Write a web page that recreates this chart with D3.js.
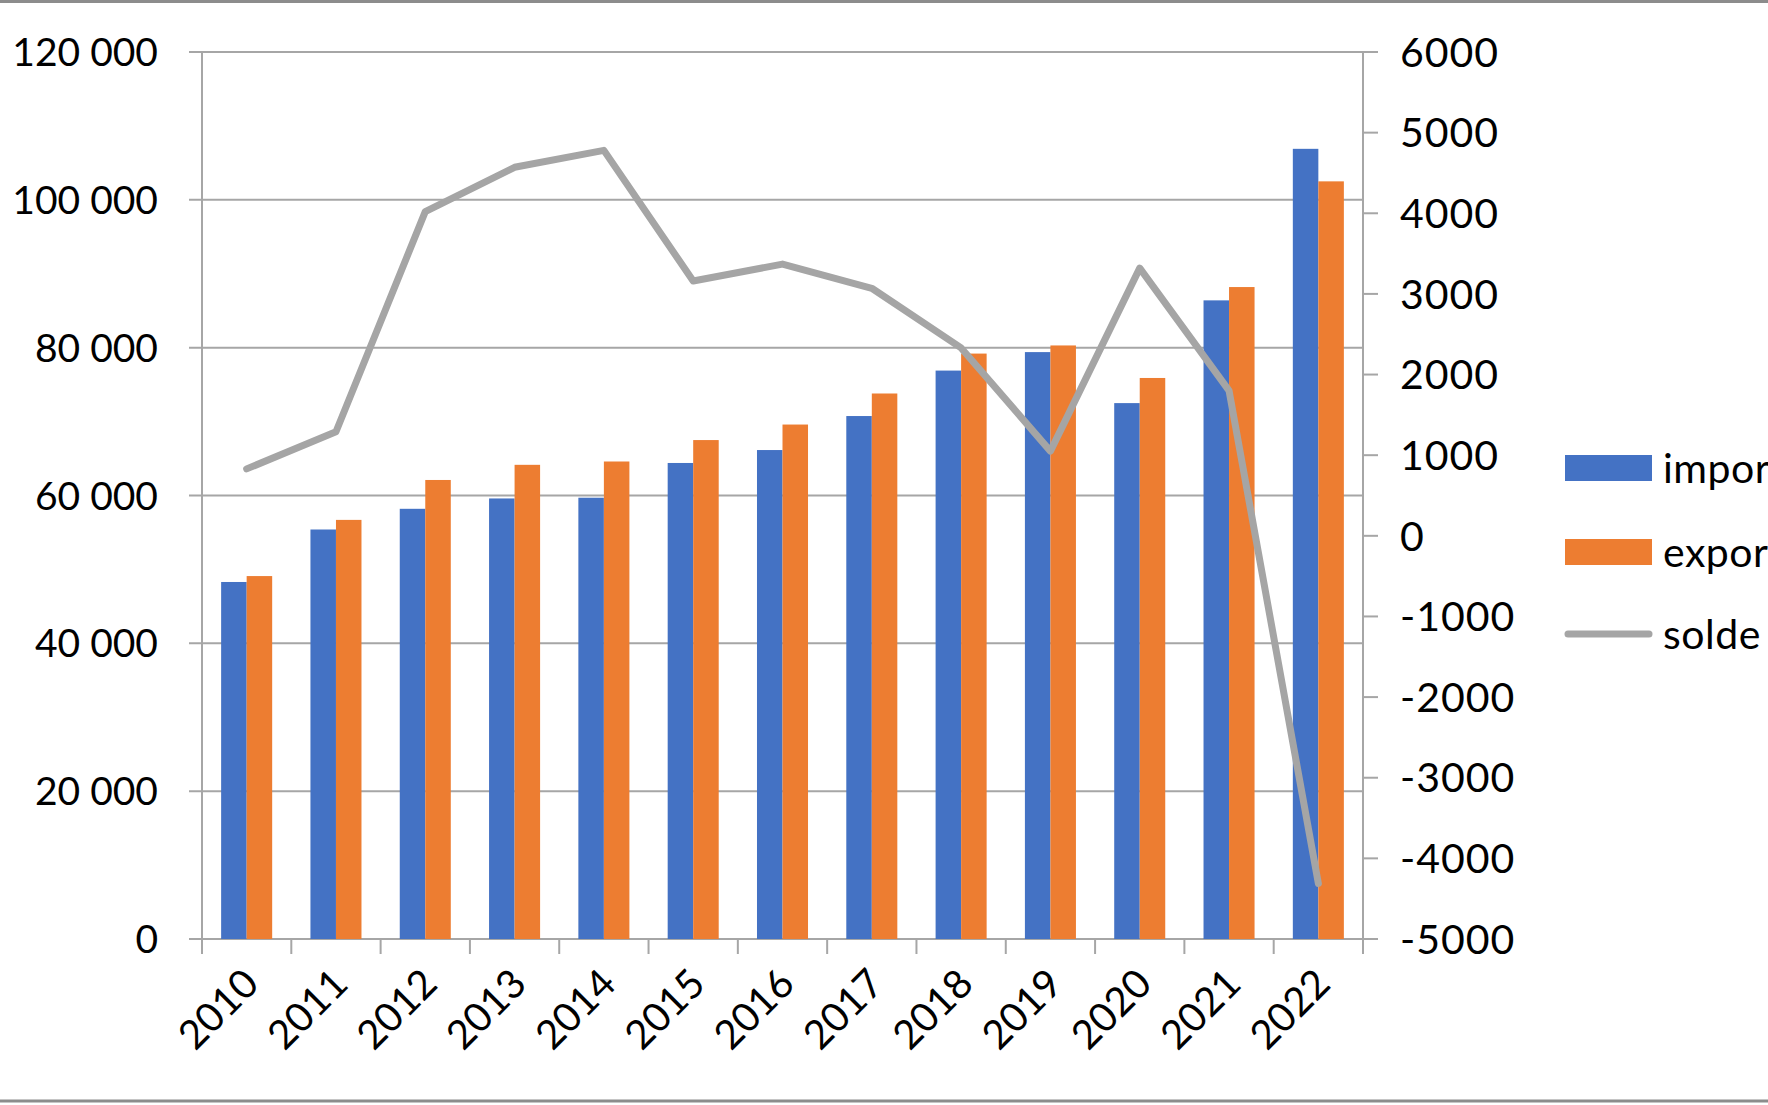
<!DOCTYPE html>
<html><head><meta charset="utf-8">
<script src="https://cdn.jsdelivr.net/npm/d3@7"></script>
<style>
html,body{margin:0;padding:0;background:#fff;overflow:hidden}
svg{display:block}
text{font-family:Lato,"Open Sans",sans-serif;fill:#000}
</style></head>
<body>
<svg id="c" width="1768" height="1105"></svg>
<script>
const years = ["2010","2011","2012","2013","2014","2015","2016","2017","2018","2019","2020","2021","2022"];
const importVals = [48300,55400,58200,59600,59700,64400,66150,70750,76900,79400,72500,86400,106900];
const exportVals = [49100,56700,62100,64150,64600,67500,69600,73800,79200,80300,75900,88200,102500];
const soldeVals  = [830,1290,4020,4570,4780,3160,3370,3070,2330,1050,3320,1800,-4310];
const leftTicks  = [0,20000,40000,60000,80000,100000,120000];
const rightTicks = [-5000,-4000,-3000,-2000,-1000,0,1000,2000,3000,4000,5000,6000];
const seriesNames = ["import","export","solde"];
const colors = {"import":"#4472C4","export":"#ED7D31","solde":"#A5A5A5"};

const svg = d3.select("#c");
const L = 202, R = 1363, T = 52, B = 939;
const fs = 39;
const gridCol = "#a6a6a6";

// frame lines (top and bottom)
svg.append("line").attr("x1",0).attr("x2",1768).attr("y1",1.5).attr("y2",1.5).attr("stroke","#8c8c8c").attr("stroke-width",3);
svg.append("line").attr("x1",0).attr("x2",1768).attr("y1",1101).attr("y2",1101).attr("stroke","#8c8c8c").attr("stroke-width",3);

const x0 = d3.scaleBand().domain(years).range([L,R]).paddingInner(3/7).paddingOuter(1.5/7);
const x1 = d3.scaleBand().domain(["import","export"]).range([0,x0.bandwidth()]);
const xc = d3.scalePoint().domain(years).range([L,R]).padding(0.5);
const yL = d3.scaleLinear().domain([0,120000]).range([B,T]);
const yR = d3.scaleLinear().domain([-5000,6000]).range([B,T]);

const fmt = v => d3.format(",")(v).replace(/,/g," ");

// gridlines
svg.append("g").selectAll("line").data(leftTicks).join("line")
  .attr("x1",L-13).attr("x2",R).attr("y1",d=>yL(d)).attr("y2",d=>yL(d))
  .attr("stroke",gridCol).attr("stroke-width",2);

// left axis
svg.append("line").attr("x1",L).attr("x2",L).attr("y1",T).attr("y2",B).attr("stroke",gridCol).attr("stroke-width",2);
svg.append("g").selectAll("text").data(leftTicks).join("text")
  .attr("x",158).attr("y",d=>yL(d)).attr("dy","0.36em").attr("text-anchor","end")
  .style("font-size",fs+"px").text(d=>fmt(d));

// right axis
svg.append("line").attr("x1",R).attr("x2",R).attr("y1",T).attr("y2",B+14).attr("stroke",gridCol).attr("stroke-width",2);
svg.append("g").selectAll("line").data(rightTicks).join("line")
  .attr("x1",R).attr("x2",R+15).attr("y1",d=>yR(d)).attr("y2",d=>yR(d))
  .attr("stroke",gridCol).attr("stroke-width",2);
svg.append("g").selectAll("text").data(rightTicks).join("text")
  .attr("x",1400).attr("y",d=>yR(d)).attr("dy","0.36em").attr("text-anchor","start")
  .style("font-size","41px").style("letter-spacing","1px").text(d=>d3.format("d")(d).replace("−","-"));

// x axis ticks
const xTickPos = years.map(y=>x0(y)-x0.step()*x0.paddingOuter()).concat([R]);
svg.append("g").selectAll("line").data(xTickPos).join("line")
  .attr("x1",d=>d).attr("x2",d=>d).attr("y1",B).attr("y2",B+15)
  .attr("stroke",gridCol).attr("stroke-width",2);
svg.append("line").attr("x1",L).attr("x2",R).attr("y1",B).attr("y2",B).attr("stroke",gridCol).attr("stroke-width",2);

// bars
const rows = years.map((y,i)=>({year:y, import:importVals[i], export:exportVals[i]}));
svg.append("g").selectAll("g").data(rows).join("g")
  .attr("transform",d=>`translate(${x0(d.year)},0)`)
  .selectAll("rect").data(d=>["import","export"].map(k=>({k, v:d[k]}))).join("rect")
  .attr("x",d=>x1(d.k)).attr("width",x1.bandwidth())
  .attr("y",d=>yL(d.v)).attr("height",d=>B-yL(d.v))
  .attr("fill",d=>colors[d.k]);

// line
const line = d3.line().x((d,i)=>xc(years[i])).y(d=>yR(d));
svg.append("path").datum(soldeVals).attr("d",line)
  .attr("fill","none").attr("stroke",colors.solde).attr("stroke-width",7)
  .attr("stroke-linejoin","round").attr("stroke-linecap","round");

// x labels
svg.append("g").selectAll("text").data(years).join("text")
  .attr("transform",d=>`translate(${xc(d)+4},${B+37}) rotate(-45)`)
  .attr("text-anchor","end").attr("dy","0.36em")
  .style("font-size","40px").text(d=>d);

// legend
const lg = svg.append("g");
const legY = [468,552,634];
seriesNames.forEach((n,i)=>{
  if(n==="solde"){
    lg.append("line").attr("x1",1568).attr("x2",1649).attr("y1",legY[i]).attr("y2",legY[i])
      .attr("stroke",colors[n]).attr("stroke-width",7).attr("stroke-linecap","round");
  } else {
    lg.append("rect").attr("x",1565).attr("y",legY[i]-13).attr("width",87).attr("height",26).attr("fill",colors[n]);
  }
  lg.append("text").attr("x",1663).attr("y",legY[i]).attr("dy","0.36em")
    .style("font-size","41px").style("letter-spacing","0.5px").text(n);
});
</script>
</body></html>
